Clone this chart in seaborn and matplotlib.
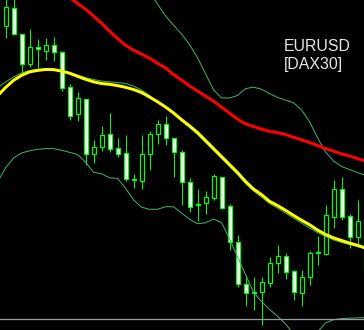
import numpy as np
import pandas as pd
import matplotlib
matplotlib.use("Agg")
import matplotlib.pyplot as plt
import seaborn as sns

nan = np.nan

# ---- candle data (price levels in chart points) ----
opens = [304.3, 321.7, 295.7, 265.7, 283.5, 279.3, 284.7, 278.0, 242.7, 215.7,
         230.7, 176.3, 183.0, 195.7, 182.0, 176.7, 150.0, 149.5, 175.7, 195.7,
         206.0, 191.7, 177.7, 147.7, 125.0, 126.7, 132.3, 152.7, 124.0, 87.7,
         46.0, 37.5, 38.3, 46.7, 66.7, 74.0, 59.0, 36.7, 52.7, 77.5,
         76.3, 113.3, 140.7, 114.0, 93.3, 109.0]
highs = [335.0, 335.0, 296.0, 300.7, 291.0, 292.3, 293.0, 279.0, 246.0, 237.7,
         231.0, 190.0, 204.0, 217.3, 192.3, 194.7, 155.7, 195.0, 199.0, 210.5,
         214.0, 192.0, 180.0, 152.0, 140.8, 139.0, 155.7, 153.3, 125.7, 95.0,
         55.0, 53.0, 53.3, 73.3, 85.0, 77.3, 60.0, 60.0, 79.3, 94.0,
         125.0, 150.0, 152.7, 116.0, 130.0, 110.0]
lows = [292.0, 295.0, 257.3, 263.3, 262.0, 270.0, 269.0, 239.3, 210.0, 209.3,
        165.0, 167.0, 179.0, 178.3, 173.3, 149.0, 141.7, 141.0, 160.0, 186.0,
        185.0, 153.3, 125.0, 118.3, 109.5, 115.7, 130.0, 120.7, 80.0, 43.3,
        24.5, 20.5, 5.3, 43.0, 56.7, 51.0, 30.0, 24.3, 45.0, 65.5,
        75.5, 101.7, 110.0, 81.7, 82.7, 57.0]
closes = [322.7, 295.7, 265.7, 282.7, 281.5, 285.0, 277.7, 242.3, 214.3, 231.7,
          176.3, 183.0, 195.0, 181.3, 176.3, 150.7, 150.0, 176.0, 195.7, 206.0,
          191.7, 177.7, 147.7, 123.3, 125.0, 132.7, 154.0, 122.3, 87.7, 46.0,
          36.7, 37.5, 47.7, 66.7, 74.0, 58.3, 38.3, 53.3, 76.7, 77.5,
          115.0, 140.7, 113.3, 93.3, 109.0, 60.0]

# ---- indicator lines, one value per bar starting one bar left of the first candle ----
line_bars = list(range(-1, 46))
ma_yellow = [234.0, 242.5, 249.6, 254.6, 258.1, 259.6, 260.5, 260.4, 258.9, 256.8,
             253.7, 250.7, 248.2, 246.5, 245.7, 244.4, 242.7, 240.5, 237.5, 233.0,
             228.2, 223.0, 217.1, 210.4, 204.2, 197.5, 189.5, 181.5, 173.5, 165.5,
             157.5, 148.6, 141.0, 135.4, 128.7, 124.5, 119.7, 114.6, 109.8, 105.3,
             100.0, 95.6, 92.1, 89.5, 86.9, 84.7, 82.0]
bb_middle = [242.0, 248.0, 253.0, 257.0, 259.5, 260.5, 261.0, 260.7, 259.5, 257.5,
             255.0, 252.5, 250.5, 249.0, 248.2, 247.5, 246.5, 244.0, 240.0, 234.5,
             228.5, 222.5, 216.0, 209.0, 202.5, 195.5, 187.5, 179.5, 171.5, 163.5,
             155.5, 146.5, 139.0, 133.0, 126.5, 122.0, 117.0, 112.0, 107.0, 102.0,
             97.5, 93.5, 90.0, 87.5, 85.5, 83.5, 81.0]
bb_upper = [nan, nan, nan, nan, nan, nan, nan, nan, nan, nan,
            nan, nan, nan, nan, nan, nan, nan, nan, 350.0, 338.0,
            326.0, 314.1, 304.8, 296.1, 285.5, 272.3, 256.4, 240.3, 232.1, 232.0,
            234.5, 241.3, 242.9, 240.8, 236.4, 232.6, 229.9, 227.3, 220.1, 208.4,
            192.3, 178.1, 169.0, 163.5, 160.5, 157.5, 154.5]
bb_lower = [148.0, 162.0, 172.0, 177.0, 179.2, 180.6, 181.4, 181.4, 179.7, 177.7,
            175.5, 168.0, 157.8, 156.3, 152.2, 151.7, 141.7, 130.3, 122.8, 120.7,
            120.7, 123.3, 123.2, 117.0, 110.8, 106.3, 107.2, 111.0, 107.5, 91.2,
            73.3, 55.5, 37.7, 28.5, 20.7, 13.8, 6.2, -4.0, -8.0, -7.0,
            -2.0, 7.0, 10.3, 11.4, 11.8, 12.1, 12.4]
ma_red = [nan, nan, nan, nan, nan, nan, nan, nan, 338.5, 332.5,
          326.6, 320.9, 314.0, 306.8, 298.8, 291.7, 284.7, 279.9, 275.9, 271.9,
          266.7, 262.2, 255.5, 250.0, 244.1, 239.0, 233.9, 228.9, 222.8, 216.9,
          210.8, 206.1, 203.5, 200.9, 198.7, 197.3, 195.5, 192.8, 190.2, 187.5,
          184.5, 181.5, 178.8, 176.2, 174.0, 171.5, 168.8]
support_level = 11.5
symbol_label = "EURUSD"
index_label = "[DAX30]"

# ---- style ----
sns.set_theme(style="dark", rc={"axes.facecolor": "black",
                                "figure.facecolor": "black",
                                "savefig.facecolor": "black"})

W, H, DPI = 364, 330, 100
PX = 72.0 / DPI  # one pixel in points

fig = plt.figure(figsize=(W / DPI, H / DPI), dpi=DPI)
ax = fig.add_axes([0, 0, 1, 1])
ax.set_facecolor("black")

bars = np.arange(len(opens))
o = np.array(opens); c = np.array(closes)
hi = np.array(highs); lo = np.array(lows)
bear = c < o

candle_green = "#00ff00"
band_green = "#3cb371"

# wicks
ax.vlines(bars, lo, hi, color=candle_green, linewidth=1 * PX, zorder=2)
# bodies
body_bottom = np.minimum(o, c)
body_height = np.maximum(np.abs(c - o), 0.8)
face = np.where(bear, "white", "black")
ax.bar(bars, body_height, bottom=body_bottom, width=0.5, color=face,
       edgecolor=candle_green, linewidth=1.2 * PX, zorder=3)

lines = pd.DataFrame({"bar": line_bars, "ma_yellow": ma_yellow, "bb_middle": bb_middle,
                      "bb_upper": bb_upper, "bb_lower": bb_lower, "ma_red": ma_red})

for col in ["bb_upper", "bb_middle", "bb_lower"]:
    sns.lineplot(data=lines, x="bar", y=col, color=band_green, linewidth=1 * PX,
                 estimator=None, sort=False, ax=ax, zorder=4)
sns.lineplot(data=lines, x="bar", y="ma_yellow", color="#ffff00", linewidth=3 * PX,
             estimator=None, sort=False, ax=ax, zorder=5)
sns.lineplot(data=lines, x="bar", y="ma_red", color="#ff0000", linewidth=3 * PX,
             estimator=None, sort=False, ax=ax, zorder=5)

ax.axhline(support_level, color="#9a9aa2", linewidth=1.3 * PX, zorder=6)

# pixel-aligned limits: candle k centred at pixel 5.5 + 8k
ax.set_xlim((0 - 5.5) / 8, (W - 5.5) / 8)
ax.set_ylim(0, H)
ax.set_xlabel(""); ax.set_ylabel("")
ax.set_xticks([]); ax.set_yticks([])
for s in ax.spines.values():
    s.set_visible(False)

fam = ["Liberation Sans Narrow", "Liberation Sans", "DejaVu Sans"]
ax.text(284 / W, 1 - 50.6 / H, symbol_label, transform=ax.transAxes, color="#e6e6e6",
        fontsize=11.4, family=fam, ha="left", va="baseline", zorder=7)
ax.text(284 / W, 1 - 69.0 / H, index_label, transform=ax.transAxes, color="#e6e6e6",
        fontsize=11.4, family=fam, ha="left", va="baseline", zorder=7)

fig.savefig("out.png", dpi=DPI, facecolor="black")
